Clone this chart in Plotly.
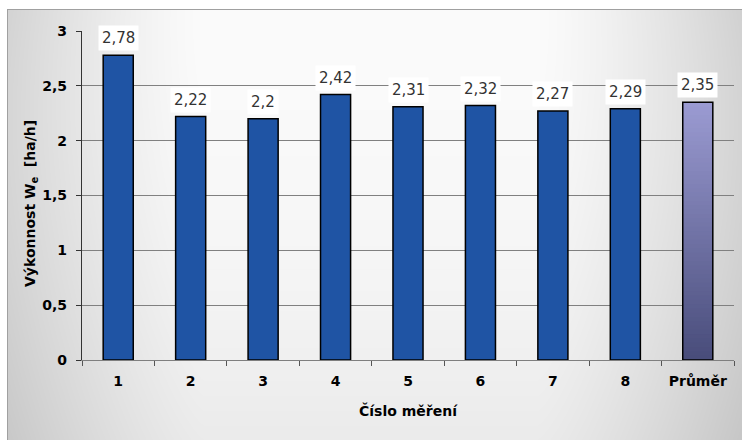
import base64
import struct
import zlib

import numpy as np
import plotly.graph_objects as go

# ---- data ----
categories = ["1", "2", "3", "4", "5", "6", "7", "8"]
values = [2.78, 2.22, 2.2, 2.42, 2.31, 2.32, 2.27, 2.29]
mean_label = "Průměr"
mean_value = 2.35
y_ticks = [0, 0.5, 1, 1.5, 2, 2.5, 3]

# ---- page geometry ----
W, H = 742, 440
ML, MR, MT, MB = 82, 8, 31, 80
PW, PH = W - ML - MR, H - MT - MB

FONT = "DejaVu Sans"
BAR_BLUE = "#1f54a4"


def png_data_uri(gray):
    """Encode a 2-D uint8 array as a grayscale PNG data URI."""
    h, w = gray.shape
    raw = b"".join(b"\x00" + gray[r].tobytes() for r in range(h))

    def chunk(tag, data):
        c = struct.pack(">I", len(data)) + tag + data
        return c + struct.pack(">I", zlib.crc32(tag + data) & 0xFFFFFFFF)

    png = b"\x89PNG\r\n\x1a\n"
    png += chunk(b"IHDR", struct.pack(">IIBBBBB", w, h, 8, 0, 0, 0, 0))
    png += chunk(b"IDAT", zlib.compress(raw, 9))
    png += chunk(b"IEND", b"")
    return "data:image/png;base64," + base64.b64encode(png).decode()


# soft grey panel behind the chart, with a thin frame on top/left
xs = np.arange(W)[None, :] / (W - 1)
ys = np.arange(H)[:, None] / (H - 1)
edge = np.clip((np.abs(xs - 0.5) * 2 - 0.45) / 0.55, 0, 1) ** 1.3
panel = 251 - 36 * edge - 16 * ys ** 2 - 6 * (1 - ys) ** 4 * edge
panel = np.clip(panel, 0, 255).astype(np.uint8)
panel[:9, :] = 255
panel[:, :7] = 255
panel[9, 7:] = 160
panel[9:, 7] = 160
bg_src = png_data_uri(panel)

all_labels = categories + [mean_label]
all_values = values + [mean_value]

fig = go.Figure()

fig.add_trace(go.Bar(
    x=categories, y=values,
    marker=dict(color=BAR_BLUE, line=dict(color="#000000", width=1.5)),
    hoverinfo="x+y",
))

# vertical colour ramp for the mean bar: nested bars from tallest to shortest
N = 60
top_rgb = np.array([155, 155, 210])
bot_rgb = np.array([72, 76, 122])
for i in range(N):
    frac = (N - i) / N
    c = bot_rgb + (top_rgb - bot_rgb) * frac
    fig.add_trace(go.Bar(
        x=[mean_label], y=[mean_value * frac],
        marker=dict(color=f"rgb({int(c[0])},{int(c[1])},{int(c[2])})",
                    line=dict(width=0)),
        hoverinfo="skip",
    ))
fig.add_trace(go.Bar(
    x=[mean_label], y=[mean_value],
    marker=dict(color="rgba(0,0,0,0)", line=dict(color="#000000", width=1.5)),
    hoverinfo="x+y",
))

# value labels on white boxes (positioned by category index)
for idx, v in enumerate(all_values):
    fig.add_annotation(
        x=idx, y=v, xref="x", yref="y",
        text=f"{v:g}".replace(".", ","),
        showarrow=False, yanchor="middle", yshift=17,
        font=dict(family=FONT, size=15, color="#333333"),
        bgcolor="#ffffff", borderpad=3,
    )

# axis titles
fig.add_annotation(
    x=-(ML - 31) / PW, y=1 - (203 - MT) / PH, xref="paper", yref="paper",
    text="<b>Výkonnost W<sub>e</sub>  [ha/h]</b>", textangle=-90, showarrow=False,
    font=dict(family=FONT, size=14, color="#000000"),
    xanchor="center", yanchor="middle",
)
fig.add_annotation(
    x=0.5, y=-(410 - MT - PH) / PH, xref="paper", yref="paper",
    text="<b>Číslo měření</b>", showarrow=False,
    font=dict(family=FONT, size=14, color="#000000"),
    xanchor="center", yanchor="middle",
)

fig.update_layout(
    width=W, height=H,
    margin=dict(l=ML, r=MR, t=MT, b=MB, autoexpand=False),
    paper_bgcolor="#ffffff", plot_bgcolor="#ffffff",
    barmode="overlay", bargap=0.585,
    showlegend=False, separators=", ",
    font=dict(family=FONT, color="#000000"),
    images=[dict(
        source=bg_src, xref="paper", yref="paper",
        x=-ML / PW, y=1 + MT / PH, sizex=W / PW, sizey=H / PH,
        xanchor="left", yanchor="top", sizing="stretch", layer="below",
    )],
)

fig.update_xaxes(
    type="category", categoryorder="array",
    categoryarray=all_labels,
    showline=True, linecolor="#7f7f7f", linewidth=1,
    ticks="outside", tickson="boundaries", ticklen=5,
    tickcolor="#555555", tickwidth=1,
    tickfont=dict(family=FONT, size=14, color="#000000", weight="bold"),
    ticklabelstandoff=8,
    showgrid=False, zeroline=False,
)
fig.update_yaxes(
    range=[0, 3], tickvals=y_ticks,
    showline=True, linecolor="#333333", linewidth=1.2,
    ticks="outside", ticklen=5, tickcolor="#333333", tickwidth=1,
    tickfont=dict(family=FONT, size=14, color="#000000", weight="bold"),
    ticklabelstandoff=6,
    showgrid=True, gridcolor="#808080", gridwidth=1,
    zeroline=False,
)

fig.write_html("out.html")
